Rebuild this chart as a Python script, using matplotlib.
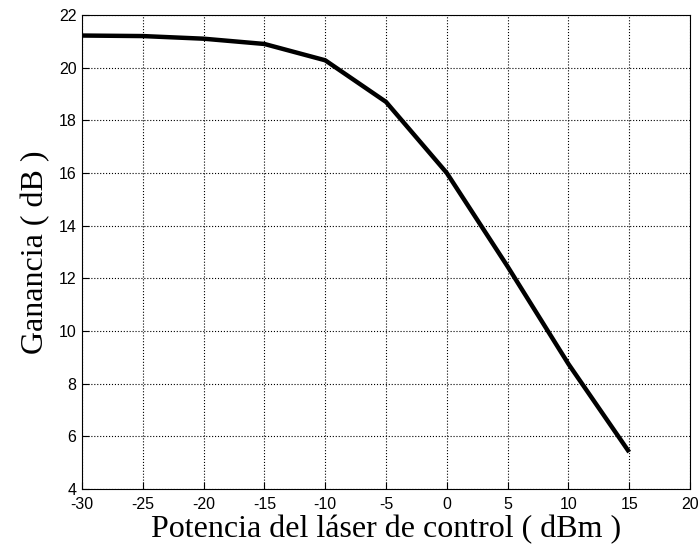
import matplotlib
matplotlib.use("Agg")
import matplotlib.pyplot as plt

potencia = [-30, -25, -20, -15, -10, -5, 0, 5, 10, 15]
ganancia = [21.22, 21.2, 21.1, 20.9, 20.28, 18.7, 16.0, 12.45, 8.75, 5.4]

xticks = [-30, -25, -20, -15, -10, -5, 0, 5, 10, 15, 20]
yticks = [4, 6, 8, 10, 12, 14, 16, 18, 20, 22]

fig = plt.figure(figsize=(6.98, 5.54), dpi=100)
ax = fig.add_axes([82 / 698, 1 - 489 / 554, 608 / 698, 474 / 554])

ax.plot(potencia, ganancia, color='black', linewidth=3.2, solid_capstyle='butt')

ax.set_xlim(-30, 20)
ax.set_ylim(4, 22)
ax.set_xticks(xticks)
ax.set_xticklabels([str(t) for t in xticks])  # plain hyphen like the original
ax.set_yticks(yticks)
ax.set_yticklabels([str(t) for t in yticks])
ax.grid(True, linestyle=':', color='black', linewidth=0.8)
ax.tick_params(direction='in', length=5, width=0.8, colors='black')
ax.tick_params(axis='x', pad=6)
ax.tick_params(axis='y', pad=4)
for lbl in ax.get_xticklabels() + ax.get_yticklabels():
    lbl.set_family('Liberation Sans')
    lbl.set_fontsize(11.5)
for s in ax.spines.values():
    s.set_linewidth(0.8)

lab_font = dict(family='Liberation Serif', fontsize=23)
ax.set_xlabel('Potencia del láser de control ( dBm )', labelpad=2, **lab_font)
ax.set_ylabel('Ganancia ( dB )', labelpad=6, **lab_font)

fig.savefig('out.png', dpi=100)
